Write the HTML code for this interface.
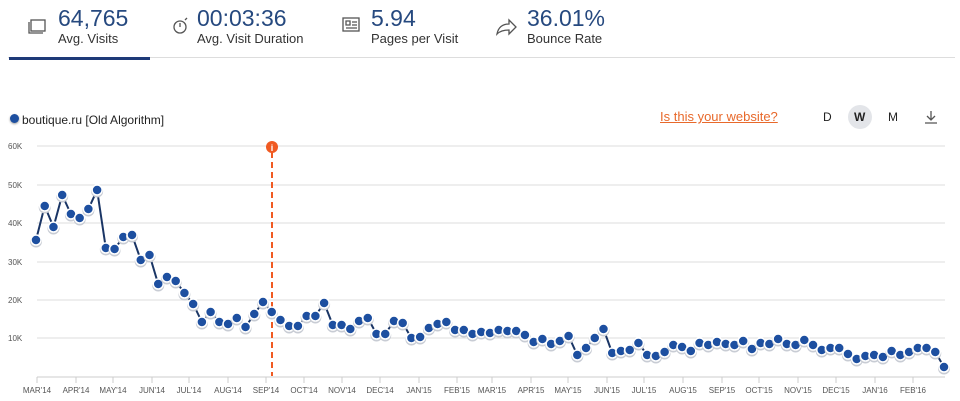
<!DOCTYPE html>
<html><head><meta charset="utf-8">
<style>
html,body{margin:0;padding:0;background:#fff;width:960px;height:401px;overflow:hidden;font-family:"Liberation Sans",sans-serif;}
.t{position:absolute;}
.num{color:#26497f;font-size:23px;}
.lab{color:#333;font-size:13px;}
</style></head><body>
<div class="t num" style="left:58px;top:5px">64,765</div>
<div class="t lab" style="left:58px;top:31px">Avg. Visits</div>
<div class="t num" style="left:197px;top:5px">00:03:36</div>
<div class="t lab" style="left:197px;top:31px">Avg. Visit Duration</div>
<div class="t num" style="left:371px;top:5px">5.94</div>
<div class="t lab" style="left:371px;top:31px">Pages per Visit</div>
<div class="t num" style="left:527px;top:5px">36.01%</div>
<div class="t lab" style="left:527px;top:31px">Bounce Rate</div>
<div class="t" style="left:8px;top:57px;width:947px;height:1px;background:#ddd"></div>
<div class="t" style="left:9px;top:57px;width:141px;height:3px;background:#1e3a78"></div>
<div class="t lab" style="left:22px;top:113px;font-size:12px;color:#222">boutique.ru [Old Algorithm]</div>
<div class="t" style="left:10px;top:114px;width:9px;height:9px;border-radius:50%;background:#1d4fa0;box-shadow:0 1px 2px #999"></div>
<div class="t" style="left:660px;top:109px;color:#e8692b;font-size:13px;text-decoration:underline">Is this your website?</div>
<div class="t" style="left:823px;top:110px;font-size:12px;color:#222">D</div>
<div class="t" style="left:848px;top:105px;width:24px;height:24px;border-radius:50%;background:#e3e5e9"></div>
<div class="t" style="left:854px;top:110px;font-size:12px;color:#222;font-weight:bold">W</div>
<div class="t" style="left:888px;top:110px;font-size:12px;color:#222">M</div>
<svg class="t" style="left:0;top:0" width="960" height="401">
<g fill="none" stroke="#555" stroke-width="1.3">
<rect x="31" y="20" width="14" height="11" fill="#fff"/><path d="M29 22 v11 h14"/>
<circle cx="180" cy="27" r="6"/><path d="M180 23 v4 M185 20 l2 -2"/>
<rect x="343" y="18" width="16" height="13"/><path d="M346 21 h4 v4 h-4z M352 22 h5 M352 25 h5 M346 28 h11"/>
<path d="M497 34 q2 -10 12 -10 v-4 l7 7 l-7 7 v-4 q-8 0 -12 4z"/>
<path d="M931 111 v9 M927 116 l4 4 l4 -4 M925 123 h12"/>
</g>
<line x1="8" y1="95" x2="955" y2="95" stroke="#fff"/>
<g id="grid" stroke="#ddd" stroke-width="1"></g>
<g id="lab" font-size="8" fill="#555" font-family="Liberation Sans,sans-serif"></g>
<line x1="272" y1="152" x2="272" y2="376" stroke="#f05a22" stroke-width="2" stroke-dasharray="6,4"/>
<circle cx="272" cy="147" r="6" fill="#f05a22"/>
<text x="272" y="151" font-size="9" fill="#fff" text-anchor="middle" font-weight="bold">i</text>
<polyline id="ln" fill="none" stroke="#1a3565" stroke-width="2"></polyline>
<g id="pts"></g>
</svg>
<script>
var ys=[240,206,227,195,214,218,209,190,248,249,237,235,260,255,284,277,281,293,304,322,312,322,324,318,327,314,302,312,320,326,326,316,316,303,325,325,329,321,318,334,334,321,323,338,337,328,324,322,330,330,334,332,333,330,331,331,335,342,339,344,341,336,355,348,338,329,353,351,350,343,355,356,352,345,347,351,343,345,342,344,345,341,349,343,344,339,344,345,340,345,350,348,348,354,359,356,355,357,351,355,352,348,348,352,367];
var n=ys.length,x0=36,x1=944,dx=(x1-x0)/(n-1);
var ns="http://www.w3.org/2000/svg";
function el(t,a,p){var e=document.createElementNS(ns,t);for(var k in a)e.setAttribute(k,a[k]);p.appendChild(e);return e;}
var g=document.getElementById('grid'),lb=document.getElementById('lab');
var gy=[146,185,223,262,300,338],gl=['60K','50K','40K','30K','20K','10K'];
gy.forEach(function(y,i){el('line',{x1:37,x2:945,y1:y,y2:y},g);var t=el('text',{x:8,y:y+3},lb);t.textContent=gl[i];});
el('line',{x1:37,x2:945,y1:377,y2:377,stroke:'#ccc'},g);
var mx=[37,76,113,152,189,228,266,304,342,380,419,457,492,531,568,607,644,683,722,759,798,836,875,913];
var ml=["MAR'14","APR'14","MAY'14","JUN'14","JUL'14","AUG'14","SEP'14","OCT'14","NOV'14","DEC'14","JAN'15","FEB'15","MAR'15","APR'15","MAY'15","JUN'15","JUL'15","AUG'15","SEP'15","OCT'15","NOV'15","DEC'15","JAN'16","FEB'16"];
mx.forEach(function(x,i){el('line',{x1:x,x2:x,y1:377,y2:383,stroke:'#ccc'},g);var t=el('text',{x:x,y:393,'text-anchor':'middle'},lb);t.textContent=ml[i];});
var s='';for(var i=0;i<n;i++)s+=(x0+i*dx).toFixed(1)+','+ys[i]+' ';
document.getElementById('ln').setAttribute('points',s);
var p=document.getElementById('pts');
for(var i=0;i<n;i++){var x=x0+i*dx;el('circle',{cx:x,cy:ys[i]+1.5,r:6,fill:'#c8ccd4'},p);el('circle',{cx:x,cy:ys[i],r:5,fill:'#1d4fa0',stroke:'#fff','stroke-width':1.5},p);}
</script>
</body></html>
